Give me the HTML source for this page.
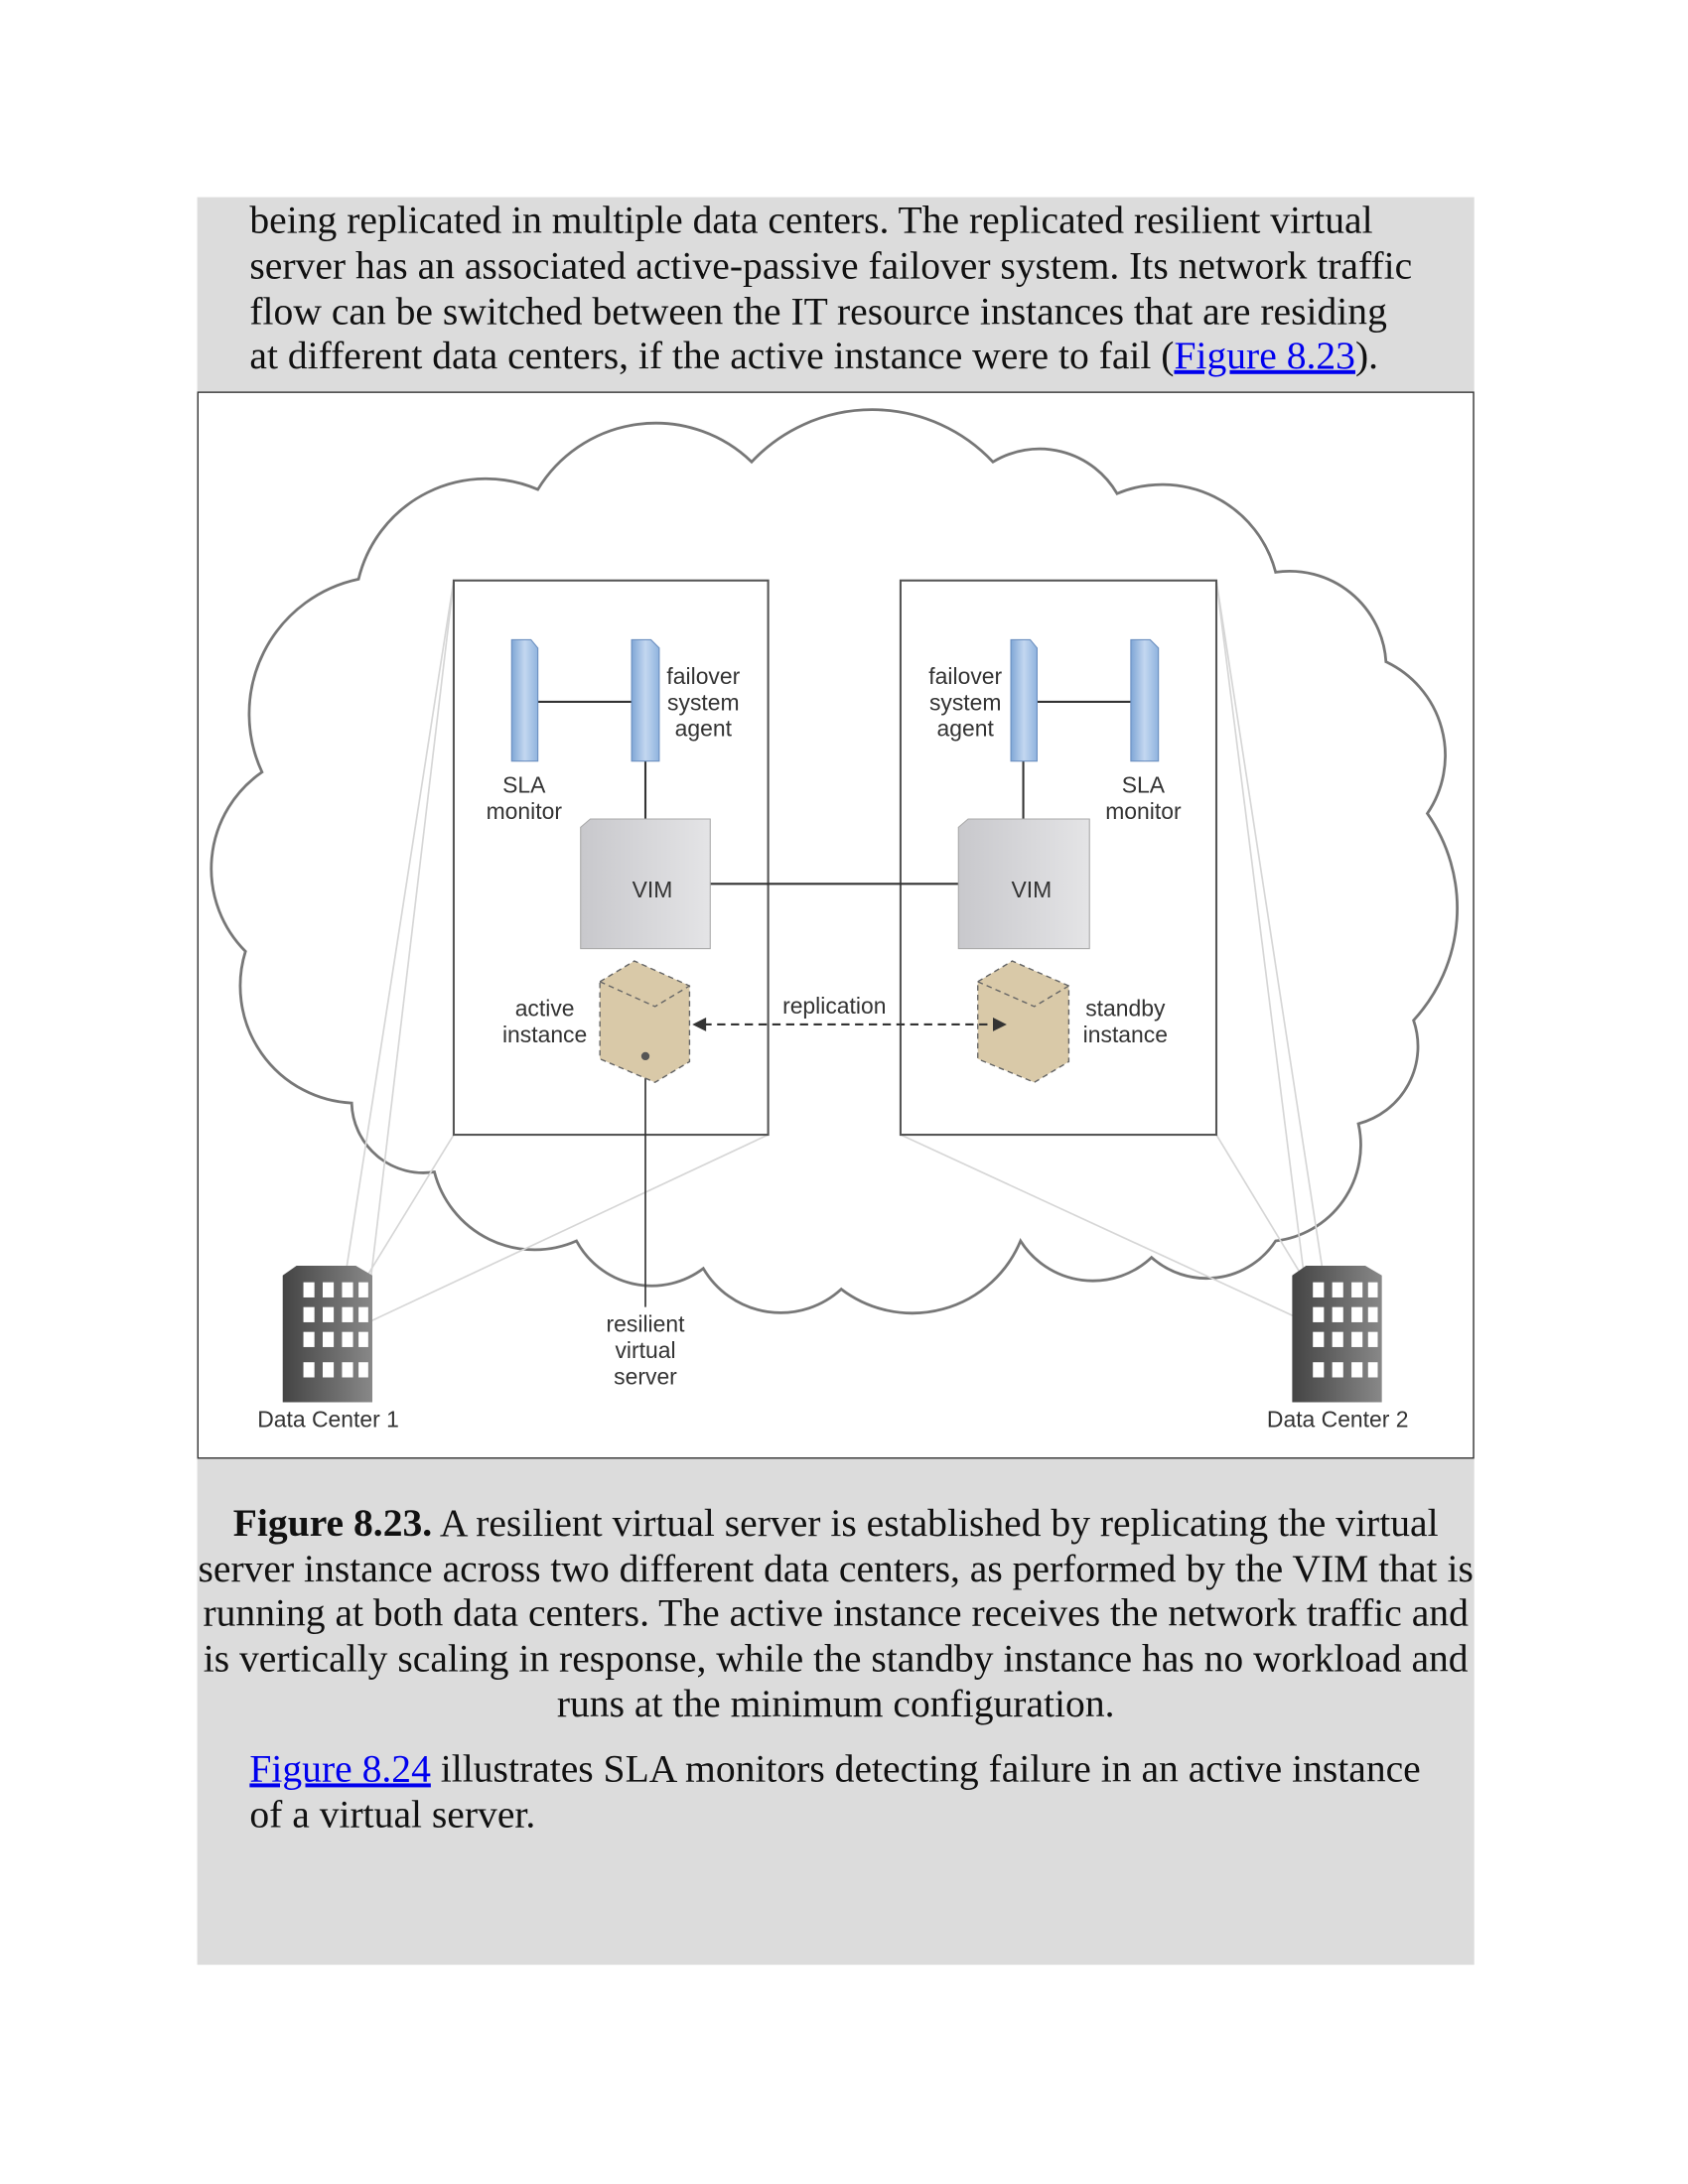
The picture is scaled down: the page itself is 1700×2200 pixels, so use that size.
<!DOCTYPE html>
<html><head><meta charset="utf-8"><style>html,body{margin:0;padding:0;background:#fff}svg{display:block}</style></head>
<body>
<svg xmlns="http://www.w3.org/2000/svg" width="1700" height="2200" viewBox="0 0 1224 1584">
<defs>
<linearGradient id="bar" x1="0" x2="1"><stop offset="0" stop-color="#7fa6d6"/><stop offset="0.5" stop-color="#c3d7f0"/><stop offset="1" stop-color="#8fb3de"/></linearGradient>
<linearGradient id="vim" x1="0" x2="1"><stop offset="0" stop-color="#c8c8cc"/><stop offset="1" stop-color="#e4e4e6"/></linearGradient>
<linearGradient id="bld" x1="0" x2="1"><stop offset="0" stop-color="#444"/><stop offset="1" stop-color="#888"/></linearGradient>
</defs>
<rect x="143" y="143" width="926" height="1282" fill="#dcdcdc"/>
<g font-family="Liberation Serif, serif" font-size="28.5" fill="#111">
<text x="181" y="169">being replicated in multiple data centers. The replicated resilient virtual</text>
<text x="181" y="202">server has an associated active-passive failover system. Its network traffic</text>
<text x="181" y="235">flow can be switched between the IT resource instances that are residing</text>
<text x="181" y="267">at different data centers, if the active instance were to fail (<tspan fill="#0000ee" text-decoration="underline">Figure 8.23</tspan>).</text>
</g>
<rect x="143.5" y="284.5" width="925" height="773" fill="#fff" stroke="#333" stroke-width="1"/>
<path d="M190 560 A100 100 0 0 1 260 420 A95 95 0 0 1 390 355 A100 100 0 0 1 545 335 A120 120 0 0 1 720 335 A65 65 0 0 1 810 358 A85 85 0 0 1 925 415 A70 70 0 0 1 1005 480 A75 75 0 0 1 1035 590 A120 120 0 0 1 1025 740 A58 58 0 0 1 985 815 A70 70 0 0 1 925 900 A60 60 0 0 1 835 912 A62 62 0 0 1 740 900 A85 85 0 0 1 610 935 A65 65 0 0 1 510 920 A62 62 0 0 1 418 900 A75 75 0 0 1 315 850 A52 52 0 0 1 255 800 A85 85 0 0 1 178 690 A85 85 0 0 1 190 560 Z" fill="#fff" stroke="#777" stroke-width="2"/>
<g stroke="#d6d6d6" stroke-width="1.2" fill="none">
<line x1="329" y1="421" x2="245" y2="960"/><line x1="329" y1="823" x2="245" y2="960"/><line x1="557" y1="823" x2="265" y2="960"/><line x1="329" y1="421" x2="265" y2="960"/>
<line x1="882" y1="421" x2="965" y2="960"/><line x1="882" y1="823" x2="965" y2="960"/><line x1="653" y1="823" x2="950" y2="960"/><line x1="882" y1="421" x2="950" y2="960"/>
</g>
<rect x="329" y="421" width="228" height="402" fill="#fff" stroke="#555" stroke-width="1.5"/>
<rect x="653" y="421" width="229" height="402" fill="#fff" stroke="#555" stroke-width="1.5"/>
<g stroke="#333" stroke-width="1.5">
<line x1="390" y1="509" x2="458" y2="509"/><line x1="468" y1="552" x2="468" y2="598"/>
<line x1="515" y1="641" x2="697" y2="641"/>
<line x1="752" y1="509" x2="820" y2="509"/><line x1="742" y1="552" x2="742" y2="598"/>
<line x1="468" y1="766" x2="468" y2="948" stroke-width="1.2"/>
</g>
<g fill="url(#bar)" stroke="#6b8fc0" stroke-width="0.8">
<polygon points="371,552 371,464 385,464 390,470 390,552"/>
<polygon points="458,552 458,464 472,464 478,470 478,552"/>
<polygon points="733,552 733,464 747,464 752,470 752,552"/>
<polygon points="820,552 820,464 834,464 840,470 840,552"/>
</g>
<g stroke="#aaa" stroke-width="0.8">
<polygon points="421,688 421,600 428,594 515,594 515,688" fill="url(#vim)"/>
<polygon points="695,688 695,600 702,594 790,594 790,688" fill="url(#vim)"/>
</g>
<g fill="#d9c9a8" stroke="#666" stroke-width="1" stroke-dasharray="4,3">
<polygon points="435,712 460,697 500,715 500,770 475,785 435,768"/>
<polyline points="435,712 475,730 500,715 M475,730 475,785" fill="none"/>
<polygon points="709,712 734,697 775,715 775,770 750,785 709,768"/>
<polyline points="709,712 750,730 775,715 M750,730 750,785" fill="none"/>
</g>
<circle cx="468" cy="766" r="3" fill="#555"/>
<line x1="510" y1="743" x2="722" y2="743" stroke="#333" stroke-width="1.5" stroke-dasharray="6,4"/>
<polygon points="502,743 512,738 512,748" fill="#333"/>
<polygon points="730,743 720,738 720,748" fill="#333"/>
<g>
<polygon points="205,1017 205,925 215,918 258,918 270,925 270,1017" fill="url(#bld)"/>
<polygon points="937,1017 937,925 947,918 990,918 1002,925 1002,1017" fill="url(#bld)"/>
<g fill="#fff">
<rect x="220" y="930" width="8" height="11"/><rect x="234" y="930" width="8" height="11"/><rect x="248" y="930" width="8" height="11"/><rect x="260" y="930" width="7" height="11"/>
<rect x="220" y="948" width="8" height="11"/><rect x="234" y="948" width="8" height="11"/><rect x="248" y="948" width="8" height="11"/><rect x="260" y="948" width="7" height="11"/>
<rect x="220" y="966" width="8" height="11"/><rect x="234" y="966" width="8" height="11"/><rect x="248" y="966" width="8" height="11"/><rect x="260" y="966" width="7" height="11"/>
<rect x="220" y="988" width="8" height="11"/><rect x="234" y="988" width="8" height="11"/><rect x="248" y="988" width="8" height="11"/><rect x="260" y="988" width="7" height="11"/>
<rect x="952" y="930" width="8" height="11"/><rect x="966" y="930" width="8" height="11"/><rect x="980" y="930" width="8" height="11"/><rect x="992" y="930" width="7" height="11"/>
<rect x="952" y="948" width="8" height="11"/><rect x="966" y="948" width="8" height="11"/><rect x="980" y="948" width="8" height="11"/><rect x="992" y="948" width="7" height="11"/>
<rect x="952" y="966" width="8" height="11"/><rect x="966" y="966" width="8" height="11"/><rect x="980" y="966" width="8" height="11"/><rect x="992" y="966" width="7" height="11"/>
<rect x="952" y="988" width="8" height="11"/><rect x="966" y="988" width="8" height="11"/><rect x="980" y="988" width="8" height="11"/><rect x="992" y="988" width="7" height="11"/>
</g></g>
<g font-family="Liberation Sans, sans-serif" font-size="16.5" fill="#333" text-anchor="middle">
<text x="510" y="496">failover</text><text x="510" y="515">system</text><text x="510" y="534">agent</text>
<text x="700" y="496">failover</text><text x="700" y="515">system</text><text x="700" y="534">agent</text>
<text x="380" y="575">SLA</text><text x="380" y="594">monitor</text>
<text x="829" y="575">SLA</text><text x="829" y="594">monitor</text>
<text x="473" y="651">VIM</text><text x="748" y="651">VIM</text>
<text x="395" y="737">active</text><text x="395" y="756">instance</text>
<text x="816" y="737">standby</text><text x="816" y="756">instance</text>
<text x="605" y="735">replication</text>
<text x="468" y="966">resilient</text><text x="468" y="985">virtual</text><text x="468" y="1004">server</text>
<text x="238" y="1035">Data Center 1</text><text x="970" y="1035">Data Center 2</text>
</g>
<g font-family="Liberation Serif, serif" font-size="28.5" fill="#111" text-anchor="middle">
<text x="606" y="1114"><tspan font-weight="bold">Figure 8.23.</tspan> A resilient virtual server is established by replicating the virtual</text>
<text x="606" y="1147">server instance across two different data centers, as performed by the VIM that is</text>
<text x="606" y="1179">running at both data centers. The active instance receives the network traffic and</text>
<text x="606" y="1212">is vertically scaling in response, while the standby instance has no workload and</text>
<text x="606" y="1245">runs at the minimum configuration.</text>
</g>
<g font-family="Liberation Serif, serif" font-size="28.5" fill="#111">
<text x="181" y="1292"><tspan fill="#0000ee" text-decoration="underline">Figure 8.24</tspan> illustrates SLA monitors detecting failure in an active instance</text>
<text x="181" y="1325">of a virtual server.</text>
</g>
</svg>
</body></html>
